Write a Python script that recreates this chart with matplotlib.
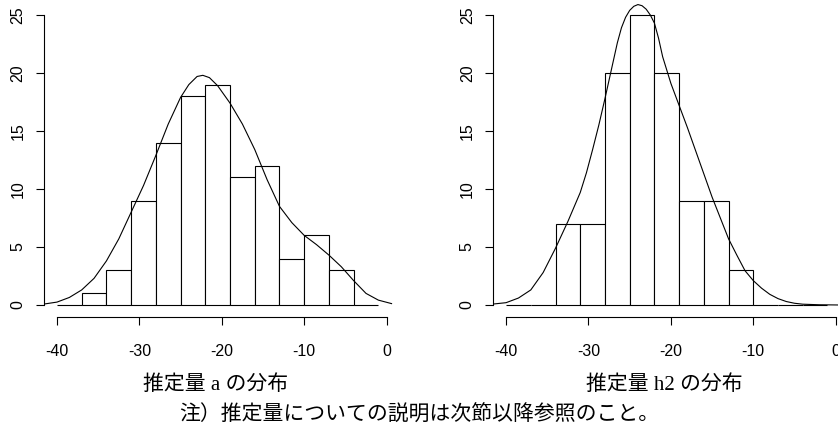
import numpy as np
import matplotlib
matplotlib.use("Agg")
import matplotlib.pyplot as plt

# histogram breaks (same for both panels) and counts
breaks = [-40, -37, -34, -31, -28, -25, -22, -19, -16, -13, -10, -7, -4, -1]
counts_a = [0, 1, 3, 9, 14, 18, 19, 11, 12, 4, 6, 3, 0]
counts_h2 = [0, 0, 7, 7, 20, 25, 20, 9, 9, 3, 0, 0, 0]

# density curves (scaled to counts)
curve_a_x = [-41.6, -40, -38.5, -37, -35.5, -34, -32.5, -31, -29.5, -28, -26.5,
             -25, -24, -23, -22.3, -21.5, -20.5, -19, -17.5, -16, -14.5, -13,
             -11.5, -10, -8.5, -7, -5.5, -4, -2.5, -1, 0.6]
curve_a_y = [0.08, 0.25, 0.65, 1.3, 2.3, 3.8, 5.7, 8.0, 10.3, 12.9, 15.6,
             17.9, 19.0, 19.7, 19.8, 19.6, 18.9, 17.4, 15.6, 13.4, 10.8, 8.5,
             7.1, 6.0, 5.2, 4.3, 3.3, 2.1, 1.0, 0.42, 0.12]

curve_h2_x = [-41.6, -40, -38.5, -37, -35.5, -34, -32.5, -31, -30.25, -29.5,
              -28.75, -28, -27.5, -27, -26.5, -26, -25.5, -25, -24.5, -24,
              -23.5, -23, -22.5, -22, -21.5, -21, -20, -19, -18, -17, -16, -15,
              -14, -13, -12, -11, -10, -9, -8, -7, -6, -5, -4, -2, 0.5]
curve_h2_y = [0.08, 0.2, 0.6, 1.3, 2.8, 4.9, 7.2, 9.7, 11.4, 13.4,
              15.5, 17.8, 19.4, 21.0, 22.6, 23.9, 24.8, 25.4, 25.75, 25.9,
              25.8, 25.5, 25.0, 24.3, 23.0, 21.4, 19.1, 17.2, 15.3, 13.3, 11.3,
              9.3, 7.5, 5.7, 4.3, 2.95, 2.1, 1.45, 0.92, 0.55, 0.3, 0.15, 0.07,
              0.02, 0.0]

xticks = [-40, -30, -20, -10, 0]
yticks = [0, 5, 10, 15, 20, 25]
titles = ["推定量 a の分布", "推定量 h2 の分布"]
note = "注）推定量についての説明は次節以降参照のこと。"

W, H = 838, 438
fig = plt.figure(figsize=(W / 100, H / 100), dpi=100)

panels = [
    (43.8, counts_a, curve_a_x, curve_a_y, titles[0], 216),
    (492.9, counts_h2, curve_h2_x, curve_h2_y, titles[1], 664),
]

tick_font = dict(fontsize=11.5, family=["Liberation Sans", "DejaVu Sans"])

for left_px, counts, cx, cy, title, title_x in panels:
    ax = fig.add_axes([left_px / W, (H - 316.6) / H, 356.0 / W, 313.2 / H])
    ax.bar(breaks[:-1], counts, width=3, align="edge", facecolor="white",
           edgecolor="black", linewidth=0.8)
    ax.plot(cx, cy, color="black", linewidth=0.8)
    ax.set_xlim(-41.6, 1.6)
    ax.set_ylim(-1, 26)
    for side in ["top", "right"]:
        ax.spines[side].set_visible(False)
    ax.spines["left"].set_bounds(0, 25)
    ax.spines["bottom"].set_bounds(-40, 0)
    for side in ["left", "bottom"]:
        ax.spines[side].set_linewidth(0.8)
    ax.tick_params(direction="out", length=6, width=0.8)
    ax.tick_params(axis="x", pad=14)
    ax.tick_params(axis="y", pad=7)
    ax.set_xticks(xticks)
    ax.set_yticks(yticks)
    ax.set_xticklabels([str(t) for t in xticks], **tick_font)
    ax.set_yticklabels([str(t) for t in yticks], rotation=90, va="center",
                       **tick_font)
    fig.text(title_x / W, 1 - 385 / H, title, ha="center", va="center",
             fontsize=15, family=["Liberation Serif", "Noto Sans CJK JP"])

fig.text(419 / W, 1 - 415 / H, note, ha="center", va="center", fontsize=15,
         family=["Noto Sans CJK JP", "DejaVu Sans"])

fig.savefig("out.png", dpi=100)
